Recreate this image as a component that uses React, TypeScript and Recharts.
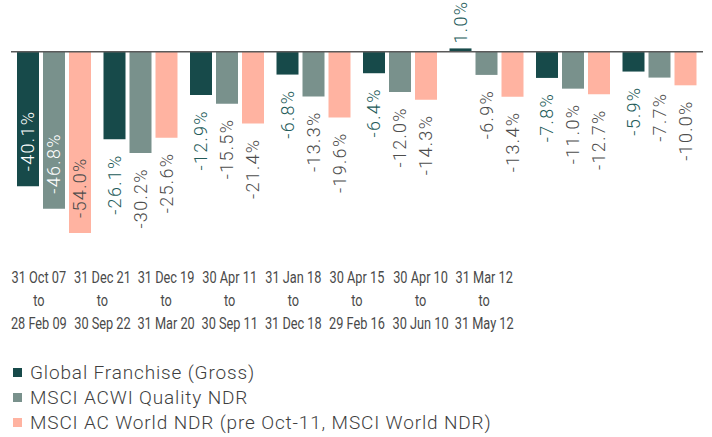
import React from "react";
import { BarChart, Bar, XAxis, YAxis, ReferenceLine, LabelList, Legend } from "recharts";

const periodStarts = ["31 Oct 07", "31 Dec 21", "31 Dec 19", "30 Apr 11", "31 Jan 18", "30 Apr 15", "30 Apr 10", "31 Mar 12"];
const periodEnds = ["28 Feb 09", "30 Sep 22", "31 Mar 20", "30 Sep 11", "31 Dec 18", "29 Feb 16", "30 Jun 10", "31 May 12"];

const globalFranchise = [-40.1, -26.1, -12.9, -6.8, -6.4, 1.0, -7.8, -5.9];
const msciQuality = [-46.8, -30.2, -15.5, -13.3, -12.0, -6.9, -11.0, -7.7];
const msciWorld = [-54.0, -25.6, -21.4, -19.6, -14.3, -13.4, -12.7, -10.0];

const seriesNames = [
  "Global Franchise (Gross)",
  "MSCI ACWI Quality NDR",
  "MSCI AC World NDR (pre Oct-11, MSCI World NDR)",
];

const COLORS = {
  franchise: "#174a4a",
  quality: "#79918c",
  world: "#ffb3a1",
};

const FONT = "Roboto, 'Open Sans', sans-serif";

const rows = periodStarts.map((start, i) => ({
  start,
  end: periodEnds[i],
  franchise: globalFranchise[i],
  quality: msciQuality[i],
  world: msciWorld[i],
}));

// values below this get their label drawn inside the bar
const INSIDE_LIMIT = -35;

function makeValueLabel(insideColor: string, outsideColor: string) {
  return function ValueLabel(props: any) {
    const { x, y, width, height, value } = props;
    if (value == null) return null;
    const top = Math.min(y, y + height);
    const bottom = Math.max(y, y + height);
    const cx = x + width / 2;
    let ay: number;
    let anchor: "start" | "end";
    let fill = outsideColor;
    if (value >= 0) {
      ay = top - 5;
      anchor = "start";
    } else if (value <= INSIDE_LIMIT) {
      ay = bottom - 15;
      anchor = "start";
      fill = insideColor;
    } else {
      ay = bottom + 15;
      anchor = "end";
    }
    return (
      <text
        x={cx}
        y={ay}
        transform={`rotate(-90, ${cx}, ${ay})`}
        textAnchor={anchor}
        dominantBaseline="central"
        fontFamily={FONT}
        fontSize={18}
        fontWeight={300}
        letterSpacing={1.3}
        fill={fill}
      >
        {value.toFixed(1) + "%"}
      </text>
    );
  };
}

function PeriodTick(props: any) {
  const { x, y, index } = props;
  const lines = [periodStarts[index], "to", periodEnds[index]];
  return (
    <g transform={`translate(${x}, ${y}) scale(0.75, 1)`}>
      {lines.map((l, i) => (
        <text
          key={i}
          x={0}
          y={30 + i * 23}
          textAnchor="middle"
          fontFamily={FONT}
          fontSize={17}
          fill="#4a4a4a"
        >
          {l}
        </text>
      ))}
    </g>
  );
}

function LegendBox() {
  const colors = [COLORS.franchise, COLORS.quality, COLORS.world];
  return (
    <div style={{ height: 75, paddingLeft: 2, fontFamily: FONT }}>
      {seriesNames.map((name, i) => (
        <div key={name} style={{ height: 25, display: "flex", alignItems: "center" }}>
          <span style={{ width: 9, height: 9, background: colors[i], marginRight: 8, display: "inline-block", flexShrink: 0 }} />
          <span style={{ fontSize: 19, fontWeight: 300, letterSpacing: 0.85, color: "#3f3f3f", whiteSpace: "nowrap" }}>{name}</span>
        </div>
      ))}
    </div>
  );
}

export default function App() {
  return (
    <div style={{ position: "absolute", left: 0, top: 0, width: 712, height: 437, background: "#fff" }}>
      <BarChart
        width={712}
        height={437}
        data={rows}
        margin={{ top: 35, right: 9, left: 11, bottom: 2 }}
        barGap={4}
        barCategoryGap={6}
      >
        <XAxis xAxisId="main" dataKey="start" hide />
        <XAxis
          xAxisId="labels"
          dataKey="start"
          height={107}
          axisLine={false}
          tickLine={false}
          tickSize={0}
          tickMargin={0}
          interval={0}
          padding={{ left: -4, right: 187 }}
          tick={<PeriodTick />}
        />
        <YAxis hide domain={[-60, 5]} />
        <ReferenceLine xAxisId="main" y={0} stroke="#5a5a5a" strokeWidth={1.5} />
        <Legend verticalAlign="bottom" align="left" content={<LegendBox />} wrapperStyle={{ left: 11, bottom: 2 }} />
        <Bar xAxisId="main" dataKey="franchise" name={seriesNames[0]} fill={COLORS.franchise} isAnimationActive={false}>
          <LabelList dataKey="franchise" content={makeValueLabel("#ffffff", "#235b59")} />
        </Bar>
        <Bar xAxisId="main" dataKey="quality" name={seriesNames[1]} fill={COLORS.quality} isAnimationActive={false}>
          <LabelList dataKey="quality" content={makeValueLabel("#ffffff", "#4d4d4d")} />
        </Bar>
        <Bar xAxisId="main" dataKey="world" name={seriesNames[2]} fill={COLORS.world} isAnimationActive={false}>
          <LabelList dataKey="world" content={makeValueLabel("#4d4d4d", "#4d4d4d")} />
        </Bar>
      </BarChart>
    </div>
  );
}
